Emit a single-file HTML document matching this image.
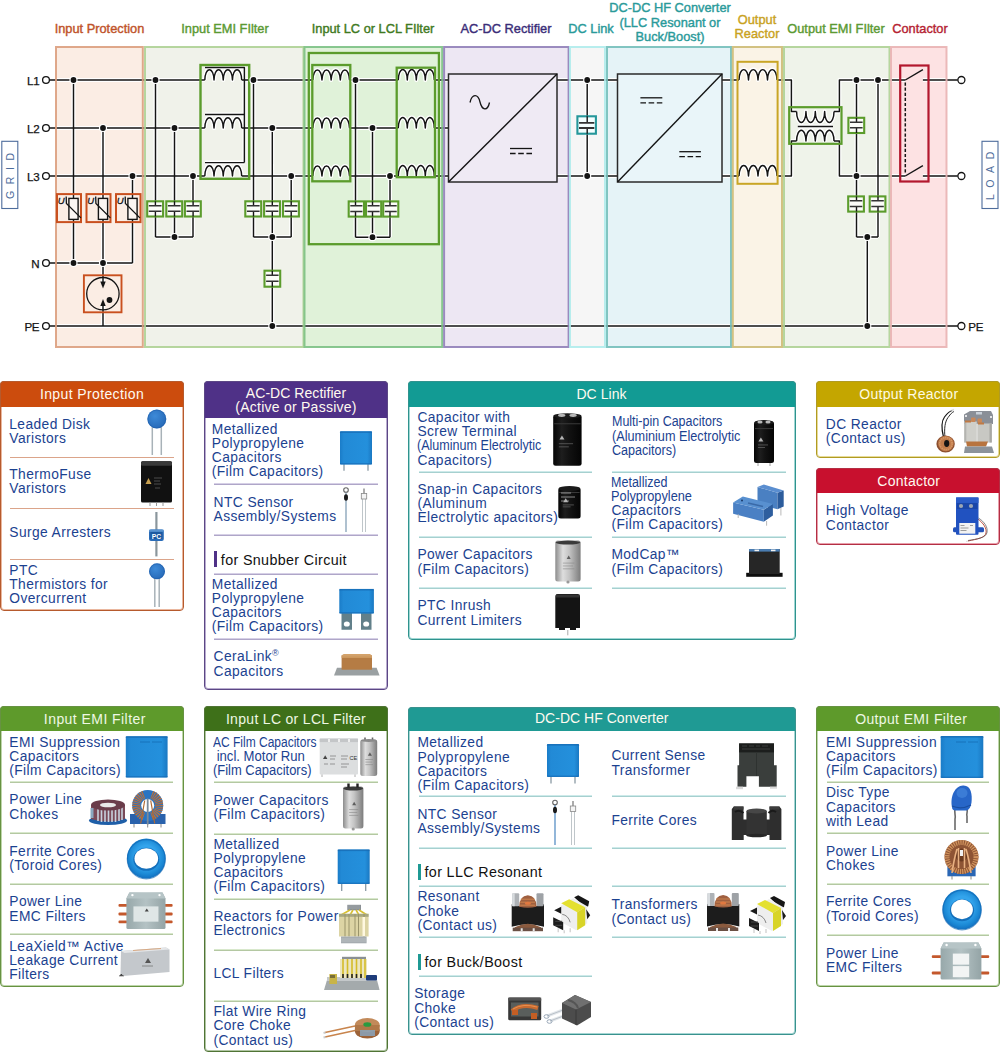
<!DOCTYPE html><html><head><meta charset="utf-8"><style>
*{margin:0;padding:0;box-sizing:border-box}
html,body{width:1000px;height:1055px;background:#fff;overflow:hidden}
body{position:relative;font-family:"Liberation Sans",sans-serif}
.dg{position:absolute;left:0;top:0}
.im{position:absolute;left:0;top:0}
.tt{font-family:"Liberation Sans",sans-serif;font-size:12.8px;stroke-width:0.4px;stroke-linejoin:round}
.lb{font-family:"Liberation Sans",sans-serif;font-size:11.6px;fill:#141414;stroke:#141414;stroke-width:0.25px;letter-spacing:-0.4px}
.uu{font-family:"Liberation Sans",sans-serif;font-style:italic;font-size:9.5px;fill:#141414;stroke:#141414;stroke-width:0.3px}
.gl{font-family:"Liberation Sans",sans-serif;font-size:10.5px;fill:#4d6c9c;letter-spacing:6.6px}
.card{position:absolute;border:1px solid;border-radius:4px;background:#fff}
.chd{position:absolute;border:1px solid;border-bottom:0;border-radius:4px 4px 0 0}
.cht{position:absolute;width:200px;text-align:center;font-size:14px;line-height:16px;letter-spacing:0.42px;white-space:nowrap}
.tx{position:absolute;white-space:nowrap;line-height:1;-webkit-text-stroke:0px}
.tx sup{font-size:9px;vertical-align:5px;line-height:0}
.cn{letter-spacing:-0.35px}
.sp{position:absolute}
</style></head><body><svg class="dg" width="1000" height="360" viewBox="0 0 1000 360"><rect x="56" y="47" width="86.80000000000001" height="300" fill="#fbede4"/><rect x="145" y="47" width="158.5" height="300" fill="#f0f2ea"/><rect x="304.5" y="47" width="137.7" height="300" fill="#e0f2d9"/><rect x="444.1" y="47" width="124.5" height="300" fill="#ede7f3"/><rect x="570" y="47" width="35" height="300" fill="#f6f6f6"/><rect x="607" y="47" width="124" height="300" fill="#e5f3f7"/><rect x="732.8" y="47" width="49.200000000000045" height="300" fill="#faf3e6"/><rect x="784" y="47" width="105.5" height="300" fill="#eff3ea"/><rect x="891" y="47" width="55.5" height="300" fill="#fde2e3"/><text x="99.5" y="33.0" fill="#c0532a" stroke="#c0532a" text-anchor="middle" class="tt">Input Protection</text><text x="225" y="33.0" fill="#5b9a33" stroke="#5b9a33" text-anchor="middle" class="tt">Input EMI FIlter</text><text x="373" y="33.0" fill="#3f7a22" stroke="#3f7a22" text-anchor="middle" class="tt">Input LC or LCL FIlter</text><text x="506" y="33.0" fill="#3a2d78" stroke="#3a2d78" text-anchor="middle" class="tt">AC-DC Rectifier</text><text x="591" y="33.0" fill="#2a9a9a" stroke="#2a9a9a" text-anchor="middle" class="tt">DC Link</text><text x="670" y="12.0" fill="#2a9a9a" stroke="#2a9a9a" text-anchor="middle" class="tt">DC-DC HF Converter</text><text x="670" y="26.6" fill="#2a9a9a" stroke="#2a9a9a" text-anchor="middle" class="tt">(LLC Resonant or</text><text x="670" y="41.2" fill="#2a9a9a" stroke="#2a9a9a" text-anchor="middle" class="tt">Buck/Boost)</text><text x="757" y="23.5" fill="#c9a21e" stroke="#c9a21e" text-anchor="middle" class="tt">Output</text><text x="757" y="38.1" fill="#c9a21e" stroke="#c9a21e" text-anchor="middle" class="tt">Reactor</text><text x="836" y="33.0" fill="#5b9a33" stroke="#5b9a33" text-anchor="middle" class="tt">Output EMI FIlter</text><text x="920" y="33.0" fill="#b51f33" stroke="#b51f33" text-anchor="middle" class="tt">Contactor</text><rect x="448.5" y="74" width="108.5" height="108" fill="#efeaf4"/><rect x="617.5" y="74" width="104.5" height="108" fill="#e9f5f9"/><path d="M49.3 80L204.8 80M241.7 80L312.8 80M349.5 80L398.3 80M434.3 80L448.5 80M49.3 128L204.8 128M241.7 128L312.8 128M349.5 128L398.3 128M434.3 128L448.5 128M49.3 176L204.8 176M241.7 176L312.8 176M349.5 176L398.3 176M434.3 176L448.5 176M49.3 263L132.5 263M49.3 326L958 326M73.5 80L73.5 263M103 128L103 263M132.5 176L132.5 263M103 263L103 284M103 326L103 304M155.5 80L155.5 237M174.5 128L174.5 237M193 176L193 237M155.5 237L193 237M253.5 80L253.5 237M272.3 128L272.3 237M291.2 176L291.2 237M253.5 237L291.2 237M272.3 237L272.3 326M355.5 80L355.5 237.2M372.5 128L372.5 237.2M390 176L390 237.2M355.5 237.2L390 237.2M557 80L617.5 80M722 80L739 80M557 176L617.5 176M722 176L739 176M587.2 80L587.2 176M777 80L791.4 80L791.4 111.5L796.6 111.5M834 111.5L839.4 111.5L839.4 80L905.3 80M777 176L791.4 176L791.4 141L796.6 141M834 141L839.4 141L839.4 176L905.3 176M856.5 80L856.5 237M878 80L878 237M856.5 237L878 237M867.3 237L867.3 326M922.9 80L957.8 80M922.9 176L957.8 176M204.8 80a4.61 10.3 0 0 1 9.22 0a4.61 10.3 0 0 1 9.22 0a4.61 10.3 0 0 1 9.22 0a4.61 10.3 0 0 1 9.22 0M312.8 80a4.59 10.5 0 0 1 9.17 0a4.59 10.5 0 0 1 9.17 0a4.59 10.5 0 0 1 9.17 0a4.59 10.5 0 0 1 9.17 0M398.3 80a4.50 10.5 0 0 1 9.00 0a4.50 10.5 0 0 1 9.00 0a4.50 10.5 0 0 1 9.00 0a4.50 10.5 0 0 1 9.00 0M204.8 128a4.61 10.3 0 0 1 9.22 0a4.61 10.3 0 0 1 9.22 0a4.61 10.3 0 0 1 9.22 0a4.61 10.3 0 0 1 9.22 0M312.8 128a4.59 10.5 0 0 1 9.17 0a4.59 10.5 0 0 1 9.17 0a4.59 10.5 0 0 1 9.17 0a4.59 10.5 0 0 1 9.17 0M398.3 128a4.50 10.5 0 0 1 9.00 0a4.50 10.5 0 0 1 9.00 0a4.50 10.5 0 0 1 9.00 0a4.50 10.5 0 0 1 9.00 0M204.8 176a4.61 10.3 0 0 1 9.22 0a4.61 10.3 0 0 1 9.22 0a4.61 10.3 0 0 1 9.22 0a4.61 10.3 0 0 1 9.22 0M312.8 176a4.59 10.5 0 0 1 9.17 0a4.59 10.5 0 0 1 9.17 0a4.59 10.5 0 0 1 9.17 0a4.59 10.5 0 0 1 9.17 0M398.3 176a4.50 10.5 0 0 1 9.00 0a4.50 10.5 0 0 1 9.00 0a4.50 10.5 0 0 1 9.00 0a4.50 10.5 0 0 1 9.00 0M739 80a4.75 10.4 0 0 1 9.50 0a4.75 10.4 0 0 1 9.50 0a4.75 10.4 0 0 1 9.50 0a4.75 10.4 0 0 1 9.50 0M739 176a4.75 10.4 0 0 1 9.50 0a4.75 10.4 0 0 1 9.50 0a4.75 10.4 0 0 1 9.50 0a4.75 10.4 0 0 1 9.50 0M796.6 111.5a4.67 11 0 0 0 9.35 0a4.67 11 0 0 0 9.35 0a4.67 11 0 0 0 9.35 0a4.67 11 0 0 0 9.35 0M796.6 141a4.67 10.8 0 0 1 9.35 0a4.67 10.8 0 0 1 9.35 0a4.67 10.8 0 0 1 9.35 0a4.67 10.8 0 0 1 9.35 0M205 67.5L244.4 67.5L244.4 162.6M205 114.4L244.4 114.4M205 162.6L244.4 162.6M797.8 126.4L833 126.4" fill="none" stroke="#fff" stroke-width="4" stroke-linejoin="round"/><path d="M49.3 80L204.8 80M241.7 80L312.8 80M349.5 80L398.3 80M434.3 80L448.5 80M49.3 128L204.8 128M241.7 128L312.8 128M349.5 128L398.3 128M434.3 128L448.5 128M49.3 176L204.8 176M241.7 176L312.8 176M349.5 176L398.3 176M434.3 176L448.5 176M49.3 263L132.5 263M49.3 326L958 326M73.5 80L73.5 263M103 128L103 263M132.5 176L132.5 263M103 263L103 284M103 326L103 304M155.5 80L155.5 237M174.5 128L174.5 237M193 176L193 237M155.5 237L193 237M253.5 80L253.5 237M272.3 128L272.3 237M291.2 176L291.2 237M253.5 237L291.2 237M272.3 237L272.3 326M355.5 80L355.5 237.2M372.5 128L372.5 237.2M390 176L390 237.2M355.5 237.2L390 237.2M557 80L617.5 80M722 80L739 80M557 176L617.5 176M722 176L739 176M587.2 80L587.2 176M777 80L791.4 80L791.4 111.5L796.6 111.5M834 111.5L839.4 111.5L839.4 80L905.3 80M777 176L791.4 176L791.4 141L796.6 141M834 141L839.4 141L839.4 176L905.3 176M856.5 80L856.5 237M878 80L878 237M856.5 237L878 237M867.3 237L867.3 326M922.9 80L957.8 80M922.9 176L957.8 176M204.8 80a4.61 10.3 0 0 1 9.22 0a4.61 10.3 0 0 1 9.22 0a4.61 10.3 0 0 1 9.22 0a4.61 10.3 0 0 1 9.22 0M312.8 80a4.59 10.5 0 0 1 9.17 0a4.59 10.5 0 0 1 9.17 0a4.59 10.5 0 0 1 9.17 0a4.59 10.5 0 0 1 9.17 0M398.3 80a4.50 10.5 0 0 1 9.00 0a4.50 10.5 0 0 1 9.00 0a4.50 10.5 0 0 1 9.00 0a4.50 10.5 0 0 1 9.00 0M204.8 128a4.61 10.3 0 0 1 9.22 0a4.61 10.3 0 0 1 9.22 0a4.61 10.3 0 0 1 9.22 0a4.61 10.3 0 0 1 9.22 0M312.8 128a4.59 10.5 0 0 1 9.17 0a4.59 10.5 0 0 1 9.17 0a4.59 10.5 0 0 1 9.17 0a4.59 10.5 0 0 1 9.17 0M398.3 128a4.50 10.5 0 0 1 9.00 0a4.50 10.5 0 0 1 9.00 0a4.50 10.5 0 0 1 9.00 0a4.50 10.5 0 0 1 9.00 0M204.8 176a4.61 10.3 0 0 1 9.22 0a4.61 10.3 0 0 1 9.22 0a4.61 10.3 0 0 1 9.22 0a4.61 10.3 0 0 1 9.22 0M312.8 176a4.59 10.5 0 0 1 9.17 0a4.59 10.5 0 0 1 9.17 0a4.59 10.5 0 0 1 9.17 0a4.59 10.5 0 0 1 9.17 0M398.3 176a4.50 10.5 0 0 1 9.00 0a4.50 10.5 0 0 1 9.00 0a4.50 10.5 0 0 1 9.00 0a4.50 10.5 0 0 1 9.00 0M739 80a4.75 10.4 0 0 1 9.50 0a4.75 10.4 0 0 1 9.50 0a4.75 10.4 0 0 1 9.50 0a4.75 10.4 0 0 1 9.50 0M739 176a4.75 10.4 0 0 1 9.50 0a4.75 10.4 0 0 1 9.50 0a4.75 10.4 0 0 1 9.50 0a4.75 10.4 0 0 1 9.50 0M796.6 111.5a4.67 11 0 0 0 9.35 0a4.67 11 0 0 0 9.35 0a4.67 11 0 0 0 9.35 0a4.67 11 0 0 0 9.35 0M796.6 141a4.67 10.8 0 0 1 9.35 0a4.67 10.8 0 0 1 9.35 0a4.67 10.8 0 0 1 9.35 0a4.67 10.8 0 0 1 9.35 0M205 67.5L244.4 67.5L244.4 162.6M205 114.4L244.4 114.4M205 162.6L244.4 162.6M797.8 126.4L833 126.4" fill="none" stroke="#141414" stroke-width="1.45" stroke-linejoin="round"/><rect x="56" y="47" width="86.80000000000001" height="300" fill="none" stroke="#dc9e7e" stroke-width="2" opacity="0.9"/><rect x="145" y="47" width="158.5" height="300" fill="none" stroke="#aed195" stroke-width="2" opacity="0.9"/><rect x="304.5" y="47" width="137.7" height="300" fill="none" stroke="#7cc184" stroke-width="2" opacity="0.9"/><rect x="444.1" y="47" width="124.5" height="300" fill="none" stroke="#9080b8" stroke-width="2" opacity="0.9"/><rect x="570" y="47" width="35" height="300" fill="none" stroke="#b0ecec" stroke-width="2" opacity="0.9"/><rect x="607" y="47" width="124" height="300" fill="none" stroke="#74bfba" stroke-width="2" opacity="0.9"/><rect x="732.8" y="47" width="49.200000000000045" height="300" fill="none" stroke="#cdbb76" stroke-width="2" opacity="0.9"/><rect x="784" y="47" width="105.5" height="300" fill="none" stroke="#aed195" stroke-width="2" opacity="0.9"/><rect x="891" y="47" width="55.5" height="300" fill="none" stroke="#e9b2b2" stroke-width="2" opacity="0.9"/><rect x="147.20000000000002" y="201.3" width="15.899999999999977" height="15.2" fill="#fbfcf8" stroke="#5b9c2c" stroke-width="2.1"/><path d="M155.4 201.3V205.632M155.4 211.30800000000002V216.5" stroke="#141414" stroke-width="1.4" fill="none"/><path d="M148.8 205.632H161.5M148.8 211.30800000000002H161.5" stroke="#333" stroke-width="1.5" fill="none"/><rect x="166.3" y="201.3" width="15.899999999999977" height="15.2" fill="#fbfcf8" stroke="#5b9c2c" stroke-width="2.1"/><path d="M174.5 201.3V205.632M174.5 211.30800000000002V216.5" stroke="#141414" stroke-width="1.4" fill="none"/><path d="M167.9 205.632H180.6M167.9 211.30800000000002H180.6" stroke="#333" stroke-width="1.5" fill="none"/><rect x="184.9" y="201.3" width="15.899999999999977" height="15.2" fill="#fbfcf8" stroke="#5b9c2c" stroke-width="2.1"/><path d="M193.1 201.3V205.632M193.1 211.30800000000002V216.5" stroke="#141414" stroke-width="1.4" fill="none"/><path d="M186.5 205.632H199.2M186.5 211.30800000000002H199.2" stroke="#333" stroke-width="1.5" fill="none"/><rect x="245.3" y="201.3" width="15.899999999999977" height="15.2" fill="#fbfcf8" stroke="#5b9c2c" stroke-width="2.1"/><path d="M253.5 201.3V205.632M253.5 211.30800000000002V216.5" stroke="#141414" stroke-width="1.4" fill="none"/><path d="M246.9 205.632H259.59999999999997M246.9 211.30800000000002H259.59999999999997" stroke="#333" stroke-width="1.5" fill="none"/><rect x="264.1" y="201.3" width="15.899999999999977" height="15.2" fill="#fbfcf8" stroke="#5b9c2c" stroke-width="2.1"/><path d="M272.3 201.3V205.632M272.3 211.30800000000002V216.5" stroke="#141414" stroke-width="1.4" fill="none"/><path d="M265.70000000000005 205.632H278.4M265.70000000000005 211.30800000000002H278.4" stroke="#333" stroke-width="1.5" fill="none"/><rect x="283.0" y="201.3" width="15.899999999999977" height="15.2" fill="#fbfcf8" stroke="#5b9c2c" stroke-width="2.1"/><path d="M291.2 201.3V205.632M291.2 211.30800000000002V216.5" stroke="#141414" stroke-width="1.4" fill="none"/><path d="M284.6 205.632H297.29999999999995M284.6 211.30800000000002H297.29999999999995" stroke="#333" stroke-width="1.5" fill="none"/><rect x="264.5" y="270.7" width="15.699999999999989" height="16" fill="#fbfcf8" stroke="#5b9c2c" stroke-width="2.1"/><path d="M272.3 270.7V275.28M272.3 281.21999999999997V286.7" stroke="#141414" stroke-width="1.4" fill="none"/><path d="M266.1 275.28H278.59999999999997M266.1 281.21999999999997H278.59999999999997" stroke="#333" stroke-width="1.5" fill="none"/><rect x="348.7" y="201.4" width="15.300000000000011" height="15.2" fill="#fbfcf8" stroke="#5b9c2c" stroke-width="2.1"/><path d="M355.5 201.4V205.732M355.5 211.40800000000002V216.6" stroke="#141414" stroke-width="1.4" fill="none"/><path d="M350.3 205.732H362.4M350.3 211.40800000000002H362.4" stroke="#333" stroke-width="1.5" fill="none"/><rect x="366" y="201.4" width="15.199999999999989" height="15.2" fill="#fbfcf8" stroke="#5b9c2c" stroke-width="2.1"/><path d="M372.5 201.4V205.732M372.5 211.40800000000002V216.6" stroke="#141414" stroke-width="1.4" fill="none"/><path d="M367.6 205.732H379.59999999999997M367.6 211.40800000000002H379.59999999999997" stroke="#333" stroke-width="1.5" fill="none"/><rect x="383.2" y="201.4" width="15.100000000000023" height="15.2" fill="#fbfcf8" stroke="#5b9c2c" stroke-width="2.1"/><path d="M390 201.4V205.732M390 211.40800000000002V216.6" stroke="#141414" stroke-width="1.4" fill="none"/><path d="M384.8 205.732H396.7M384.8 211.40800000000002H396.7" stroke="#333" stroke-width="1.5" fill="none"/><rect x="577.4" y="116.3" width="18.5" height="17.4" fill="#f4fefe" stroke="#25979a" stroke-width="2.1"/><path d="M587.2 116.3V122.866M587.2 128.007V133.7" stroke="#141414" stroke-width="1.4" fill="none"/><path d="M579.0 122.866H594.3M579.0 128.007H594.3" stroke="#333" stroke-width="1.8" fill="none"/><rect x="848.4" y="117.8" width="15.800000000000068" height="15.2" fill="#fbfcf8" stroke="#5b9c2c" stroke-width="2.1"/><path d="M856.5 117.8V122.13199999999999M856.5 127.80799999999999V133.0" stroke="#141414" stroke-width="1.4" fill="none"/><path d="M850.0 122.13199999999999H862.6M850.0 127.80799999999999H862.6" stroke="#333" stroke-width="1.5" fill="none"/><rect x="848.2" y="196.4" width="15.699999999999932" height="15.2" fill="#fbfcf8" stroke="#5b9c2c" stroke-width="2.1"/><path d="M856.5 196.4V200.732M856.5 206.40800000000002V211.6" stroke="#141414" stroke-width="1.4" fill="none"/><path d="M849.8000000000001 200.732H862.3M849.8000000000001 206.40800000000002H862.3" stroke="#333" stroke-width="1.5" fill="none"/><rect x="869.7" y="196.4" width="15.699999999999932" height="15.2" fill="#fbfcf8" stroke="#5b9c2c" stroke-width="2.1"/><path d="M878 196.4V200.732M878 206.40800000000002V211.6" stroke="#141414" stroke-width="1.4" fill="none"/><path d="M871.3000000000001 200.732H883.8M871.3000000000001 206.40800000000002H883.8" stroke="#333" stroke-width="1.5" fill="none"/><rect x="57" y="194.1" width="24" height="28" fill="none" stroke="#c9501f" stroke-width="2"/><rect x="68.9" y="198.4" width="9.2" height="21" fill="#fbf6f3" stroke="#141414" stroke-width="1.4"/><path d="M66.2 196.4L66.4 203.4L80.9 217.9" stroke="#141414" stroke-width="1.3" fill="none"/><text x="57.7" y="203.6" class="uu">U</text><rect x="86.5" y="194.1" width="24.0" height="28" fill="none" stroke="#c9501f" stroke-width="2"/><rect x="98.4" y="198.4" width="9.2" height="21" fill="#fbf6f3" stroke="#141414" stroke-width="1.4"/><path d="M95.7 196.4L95.9 203.4L110.4 217.9" stroke="#141414" stroke-width="1.3" fill="none"/><text x="87.2" y="203.6" class="uu">U</text><rect x="116" y="194.1" width="24.5" height="28" fill="none" stroke="#c9501f" stroke-width="2"/><rect x="127.9" y="198.4" width="9.2" height="21" fill="#fbf6f3" stroke="#141414" stroke-width="1.4"/><path d="M125.2 196.4L125.4 203.4L139.9 217.9" stroke="#141414" stroke-width="1.3" fill="none"/><text x="116.7" y="203.6" class="uu">U</text><rect x="83.9" y="275.3" width="37.6" height="37" fill="none" stroke="#c9501f" stroke-width="1.9"/><circle cx="102.9" cy="293.7" r="16.2" fill="none" stroke="#141414" stroke-width="1.3"/><path d="M100.3 281.5L105.7 281.5L103 288.5Z" fill="#141414"/><path d="M100.3 306L105.7 306L103 299Z" fill="#141414"/><circle cx="109.5" cy="300" r="2.9" fill="#141414"/><rect x="200.5" y="65" width="48.7" height="113.8" fill="none" stroke="#5b9c2c" stroke-width="2.4"/><rect x="308.8" y="53" width="130.1" height="191.2" fill="none" stroke="#5b9c2c" stroke-width="2.3"/><rect x="312.3" y="65" width="38" height="116.3" fill="none" stroke="#5b9c2c" stroke-width="2.3"/><rect x="396.7" y="67.7" width="38.3" height="109.5" fill="none" stroke="#5b9c2c" stroke-width="2.3"/><rect x="448.5" y="74" width="108.5" height="108" fill="none" stroke="#2a2a2a" stroke-width="1.5"/><path d="M448.5 182L557 74" stroke="#141414" stroke-width="1.4"/><path d="M470 102.5C472 93.5 478 93.5 480 102S487.5 111.5 489.5 102.5" stroke="#141414" stroke-width="1.3" fill="none"/><path d="M510 148.5H532" stroke="#141414" stroke-width="1.3"/><path d="M510 153.5H532" stroke="#141414" stroke-width="1.3" stroke-dasharray="5.6 2.6"/><rect x="617.5" y="74" width="104.5" height="108" fill="none" stroke="#2a2a2a" stroke-width="1.5"/><path d="M617.5 182L722 74" stroke="#141414" stroke-width="1.4"/><path d="M640.4 97.8H662.3" stroke="#141414" stroke-width="1.3"/><path d="M640.4 102.8H662.3" stroke="#141414" stroke-width="1.3" stroke-dasharray="5.6 2.6"/><path d="M679.3 151.7H700.9" stroke="#141414" stroke-width="1.3"/><path d="M679.3 156.7H700.9" stroke="#141414" stroke-width="1.3" stroke-dasharray="5.6 2.6"/><rect x="737.5" y="61.8" width="40.1" height="122" fill="none" stroke="#c9a526" stroke-width="2"/><rect x="789.2" y="107.2" width="52.3" height="36.6" fill="none" stroke="#5b9c2c" stroke-width="2.2"/><rect x="900.2" y="65.5" width="28.3" height="116" fill="none" stroke="#b3172d" stroke-width="2.2"/><path d="M905.3 80L922.9 69.6" stroke="#141414" stroke-width="1.4"/><path d="M905.3 176L922.9 165.6" stroke="#141414" stroke-width="1.4"/><path d="M905.3 82.5V174" stroke="#141414" stroke-width="1.5" stroke-dasharray="3.2 1.9"/><circle cx="46" cy="80" r="3.4" fill="#fff" stroke="#141414" stroke-width="1.3"/><circle cx="46" cy="128" r="3.4" fill="#fff" stroke="#141414" stroke-width="1.3"/><circle cx="46" cy="176" r="3.4" fill="#fff" stroke="#141414" stroke-width="1.3"/><circle cx="46" cy="263" r="3.4" fill="#fff" stroke="#141414" stroke-width="1.3"/><circle cx="46" cy="326" r="3.4" fill="#fff" stroke="#141414" stroke-width="1.3"/><circle cx="961.4" cy="80" r="3.5" fill="#fff" stroke="#141414" stroke-width="1.3"/><circle cx="961.4" cy="176" r="3.5" fill="#fff" stroke="#141414" stroke-width="1.3"/><circle cx="961.4" cy="326" r="3.5" fill="#fff" stroke="#141414" stroke-width="1.3"/><text x="39.2" y="84.6" text-anchor="end" class="lb">L1</text><text x="39.2" y="132.6" text-anchor="end" class="lb">L2</text><text x="39.2" y="180.6" text-anchor="end" class="lb">L3</text><text x="39.2" y="267.6" text-anchor="end" class="lb">N</text><text x="39.2" y="330.6" text-anchor="end" class="lb">PE</text><text x="968.3" y="330.6" class="lb">PE</text><rect x="1.8" y="141.3" width="16" height="67.2" fill="#fff" stroke="#4d6c9c" stroke-width="1.1"/><text transform="translate(14,172.6) rotate(-90)" text-anchor="middle" class="gl">GRID</text><rect x="982" y="141.3" width="16" height="67.2" fill="#fff" stroke="#4d6c9c" stroke-width="1.1"/><text transform="translate(994,172.6) rotate(-90)" text-anchor="middle" class="gl">LOAD</text><circle cx="73.5" cy="80" r="4.1" fill="#fff"/><circle cx="73.5" cy="80" r="2.9" fill="#141414"/><circle cx="103" cy="128" r="4.1" fill="#fff"/><circle cx="103" cy="128" r="2.9" fill="#141414"/><circle cx="132.5" cy="176" r="4.1" fill="#fff"/><circle cx="132.5" cy="176" r="2.9" fill="#141414"/><circle cx="73.5" cy="263" r="4.1" fill="#fff"/><circle cx="73.5" cy="263" r="2.9" fill="#141414"/><circle cx="103" cy="263" r="4.1" fill="#fff"/><circle cx="103" cy="263" r="2.9" fill="#141414"/><circle cx="155.5" cy="80" r="4.1" fill="#fff"/><circle cx="155.5" cy="80" r="2.9" fill="#141414"/><circle cx="174.5" cy="128" r="4.1" fill="#fff"/><circle cx="174.5" cy="128" r="2.9" fill="#141414"/><circle cx="193" cy="176" r="4.1" fill="#fff"/><circle cx="193" cy="176" r="2.9" fill="#141414"/><circle cx="174.5" cy="237" r="4.1" fill="#fff"/><circle cx="174.5" cy="237" r="2.9" fill="#141414"/><circle cx="253.5" cy="80" r="4.1" fill="#fff"/><circle cx="253.5" cy="80" r="2.9" fill="#141414"/><circle cx="272.3" cy="128" r="4.1" fill="#fff"/><circle cx="272.3" cy="128" r="2.9" fill="#141414"/><circle cx="291.2" cy="176" r="4.1" fill="#fff"/><circle cx="291.2" cy="176" r="2.9" fill="#141414"/><circle cx="272.3" cy="237" r="4.1" fill="#fff"/><circle cx="272.3" cy="237" r="2.9" fill="#141414"/><circle cx="272.3" cy="326" r="4.1" fill="#fff"/><circle cx="272.3" cy="326" r="2.9" fill="#141414"/><circle cx="355.5" cy="80" r="4.1" fill="#fff"/><circle cx="355.5" cy="80" r="2.9" fill="#141414"/><circle cx="372.5" cy="128" r="4.1" fill="#fff"/><circle cx="372.5" cy="128" r="2.9" fill="#141414"/><circle cx="390" cy="176" r="4.1" fill="#fff"/><circle cx="390" cy="176" r="2.9" fill="#141414"/><circle cx="372.5" cy="237.2" r="4.1" fill="#fff"/><circle cx="372.5" cy="237.2" r="2.9" fill="#141414"/><circle cx="587.2" cy="80" r="4.1" fill="#fff"/><circle cx="587.2" cy="80" r="2.9" fill="#141414"/><circle cx="587.2" cy="176" r="4.1" fill="#fff"/><circle cx="587.2" cy="176" r="2.9" fill="#141414"/><circle cx="856.5" cy="80" r="4.1" fill="#fff"/><circle cx="856.5" cy="80" r="2.9" fill="#141414"/><circle cx="856.5" cy="176" r="4.1" fill="#fff"/><circle cx="856.5" cy="176" r="2.9" fill="#141414"/><circle cx="878" cy="80" r="4.1" fill="#fff"/><circle cx="878" cy="80" r="2.9" fill="#141414"/><circle cx="867.3" cy="237" r="4.1" fill="#fff"/><circle cx="867.3" cy="237" r="2.9" fill="#141414"/><circle cx="867.3" cy="326" r="4.1" fill="#fff"/><circle cx="867.3" cy="326" r="2.9" fill="#141414"/></svg><div class="card" style="left:0px;top:381px;width:184px;height:230px;border-color:#b65a2d;box-shadow:inset 0 0 0 1px #eab79e"></div><div class="chd" style="left:0px;top:381px;width:184px;height:26px;background:#cc4c0d;border-color:#b65a2d"></div><div class="cht" style="left:-8px;top:386.4px;color:#fffaf0;letter-spacing:0.38px">Input Protection</div><div class="tx" style="left:9.3px;top:417.82px;font-size:13.8px;letter-spacing:0.4px;color:#1b4290;">Leaded Disk</div><div class="tx" style="left:9.3px;top:432.02px;font-size:13.8px;letter-spacing:0.4px;color:#1b4290;">Varistors</div><div class="sp" style="left:10px;top:457px;width:163.5px;height:1px;background:#dba48a"></div><div class="tx" style="left:9.3px;top:468.22px;font-size:13.8px;letter-spacing:0.4px;color:#1b4290;">ThermoFuse</div><div class="tx" style="left:9.3px;top:482.42px;font-size:13.8px;letter-spacing:0.4px;color:#1b4290;">Varistors</div><div class="sp" style="left:10px;top:508px;width:163.5px;height:1px;background:#dba48a"></div><div class="tx" style="left:9.3px;top:525.82px;font-size:13.8px;letter-spacing:0.4px;color:#1b4290;">Surge Arresters</div><div class="sp" style="left:10px;top:559px;width:163.5px;height:1px;background:#dba48a"></div><div class="tx" style="left:9.3px;top:563.72px;font-size:13.8px;letter-spacing:0.4px;color:#1b4290;">PTC</div><div class="tx" style="left:9.3px;top:577.92px;font-size:13.8px;letter-spacing:0.4px;color:#1b4290;">Thermistors for</div><div class="tx" style="left:9.3px;top:592.12px;font-size:13.8px;letter-spacing:0.4px;color:#1b4290;">Overcurrent</div><div class="card" style="left:204px;top:381px;width:184px;height:309px;border-color:#5c4785;box-shadow:inset 0 0 0 1px #b8accf"></div><div class="chd" style="left:204px;top:381px;width:184px;height:37px;background:#4f3187;border-color:#5c4785"></div><div class="cht" style="left:196px;top:385.4px;color:#fffaf0;letter-spacing:0.05px">AC-DC Rectifier</div><div class="cht" style="left:196px;top:398.8px;color:#fffaf0;letter-spacing:0.25px">(Active or Passive)</div><div class="tx" style="left:211.8px;top:422.52px;font-size:13.8px;letter-spacing:0.4px;color:#1b4290;">Metallized</div><div class="tx" style="left:211.8px;top:436.72px;font-size:13.8px;letter-spacing:0.4px;color:#1b4290;">Polypropylene</div><div class="tx" style="left:211.8px;top:450.92px;font-size:13.8px;letter-spacing:0.4px;color:#1b4290;">Capacitors</div><div class="tx" style="left:211.8px;top:465.12px;font-size:13.8px;letter-spacing:0.4px;color:#1b4290;">(Film Capacitors)</div><div class="sp" style="left:214px;top:483px;width:163.7px;height:2px;background:linear-gradient(#d6d0e6 50%,#afa6c8 50%)"></div><div class="tx" style="left:213.6px;top:495.72px;font-size:13.8px;letter-spacing:0.4px;color:#1b4290;">NTC Sensor</div><div class="tx" style="left:213.6px;top:509.92px;font-size:13.8px;letter-spacing:0.4px;color:#1b4290;">Assembly/Systems</div><div class="sp" style="left:214px;top:534px;width:163.7px;height:2px;background:linear-gradient(#d6d0e6 50%,#afa6c8 50%)"></div><div class="sp" style="left:214.3px;top:551.3px;width:3.2px;height:16.100000000000023px;background:#4f3187"></div><div class="tx" style="left:220.8px;top:553.10px;font-size:14.3px;letter-spacing:0.36px;color:#111;">for Snubber Circuit</div><div class="sp" style="left:214px;top:573px;width:163.7px;height:2px;background:linear-gradient(#d6d0e6 50%,#afa6c8 50%)"></div><div class="tx" style="left:211.8px;top:577.82px;font-size:13.8px;letter-spacing:0.4px;color:#1b4290;">Metallized</div><div class="tx" style="left:211.8px;top:592.02px;font-size:13.8px;letter-spacing:0.4px;color:#1b4290;">Polypropylene</div><div class="tx" style="left:211.8px;top:606.22px;font-size:13.8px;letter-spacing:0.4px;color:#1b4290;">Capacitors</div><div class="tx" style="left:211.8px;top:620.42px;font-size:13.8px;letter-spacing:0.4px;color:#1b4290;">(Film Capacitors)</div><div class="sp" style="left:214px;top:638px;width:163.7px;height:2px;background:linear-gradient(#d6d0e6 50%,#afa6c8 50%)"></div><div class="tx" style="left:213.6px;top:650.42px;font-size:13.8px;letter-spacing:0.4px;color:#1b4290;">CeraLink<sup>®</sup></div><div class="tx" style="left:213.6px;top:664.62px;font-size:13.8px;letter-spacing:0.4px;color:#1b4290;">Capacitors</div><div class="card" style="left:408px;top:381px;width:388px;height:259px;border-color:#30938e;box-shadow:inset 0 0 0 1px #a0d7d4"></div><div class="chd" style="left:408px;top:381px;width:388px;height:26px;background:#129b94;border-color:#30938e"></div><div class="cht" style="left:501.5px;top:386.4px;color:#fffaf0;letter-spacing:0.05px">DC Link</div><div class="tx" style="left:417.4px;top:410.92px;font-size:13.8px;letter-spacing:0.4px;color:#1b4290;">Capacitor with</div><div class="tx" style="left:417.4px;top:425.12px;font-size:13.8px;letter-spacing:0.4px;color:#1b4290;">Screw Terminal</div><div class="tx" style="left:417.4px;top:439.32px;font-size:13.8px;letter-spacing:0.4px;color:#1b4290;"><span style="letter-spacing:0px;display:inline-block;transform:scaleX(0.911);transform-origin:0 0">(Aluminum Electrolytic</span></div><div class="tx" style="left:417.4px;top:453.52px;font-size:13.8px;letter-spacing:0.4px;color:#1b4290;">Capacitors)</div><div class="sp" style="left:418.6px;top:471px;width:173.39999999999998px;height:2px;background:linear-gradient(#cdeaea 50%,#a6d0cf 50%)"></div><div class="tx" style="left:417.4px;top:482.92px;font-size:13.8px;letter-spacing:0.42px;color:#1b4290;">Snap-in Capacitors</div><div class="tx" style="left:417.4px;top:497.12px;font-size:13.8px;letter-spacing:0.42px;color:#1b4290;">(Aluminum</div><div class="tx" style="left:417.4px;top:511.32px;font-size:13.8px;letter-spacing:0.42px;color:#1b4290;">Electrolytic apacitors)</div><div class="sp" style="left:418.6px;top:536px;width:173.39999999999998px;height:2px;background:linear-gradient(#cdeaea 50%,#a6d0cf 50%)"></div><div class="tx" style="left:417.4px;top:548.32px;font-size:13.8px;letter-spacing:0.4px;color:#1b4290;">Power Capacitors</div><div class="tx" style="left:417.4px;top:562.52px;font-size:13.8px;letter-spacing:0.4px;color:#1b4290;">(Film Capacitors)</div><div class="sp" style="left:418.6px;top:587px;width:173.39999999999998px;height:2px;background:linear-gradient(#cdeaea 50%,#a6d0cf 50%)"></div><div class="tx" style="left:417.4px;top:599.32px;font-size:13.8px;letter-spacing:0.4px;color:#1b4290;">PTC Inrush</div><div class="tx" style="left:417.4px;top:613.52px;font-size:13.8px;letter-spacing:0.4px;color:#1b4290;">Current Limiters</div><div class="tx" style="left:612.4px;top:415.32px;font-size:13.8px;letter-spacing:0.4px;color:#1b4290;"><span style="letter-spacing:0px;display:inline-block;transform:scaleX(0.905);transform-origin:0 0">Multi-pin Capacitors</span></div><div class="tx" style="left:612.4px;top:429.52px;font-size:13.8px;letter-spacing:0.4px;color:#1b4290;"><span style="letter-spacing:0px;display:inline-block;transform:scaleX(0.92);transform-origin:0 0">(Aluminium Electrolytic</span></div><div class="tx" style="left:612.4px;top:443.72px;font-size:13.8px;letter-spacing:0.4px;color:#1b4290;"><span style="letter-spacing:0px;display:inline-block;transform:scaleX(0.91);transform-origin:0 0">Capacitors)</span></div><div class="sp" style="left:612px;top:471px;width:174px;height:2px;background:linear-gradient(#cdeaea 50%,#a6d0cf 50%)"></div><div class="tx" style="left:611.4px;top:475.72px;font-size:13.8px;letter-spacing:0.4px;color:#1b4290;"><span style="letter-spacing:0px;display:inline-block;transform:scaleX(0.908);transform-origin:0 0">Metallized</span></div><div class="tx" style="left:611.4px;top:489.92px;font-size:13.8px;letter-spacing:0.4px;color:#1b4290;"><span style="letter-spacing:0px;display:inline-block;transform:scaleX(0.926);transform-origin:0 0">Polypropylene</span></div><div class="tx" style="left:611.4px;top:504.12px;font-size:13.8px;letter-spacing:0.4px;color:#1b4290;">Capacitors</div><div class="tx" style="left:611.4px;top:518.32px;font-size:13.8px;letter-spacing:0.4px;color:#1b4290;">(Film Capacitors)</div><div class="sp" style="left:612px;top:536px;width:174px;height:2px;background:linear-gradient(#cdeaea 50%,#a6d0cf 50%)"></div><div class="tx" style="left:611.4px;top:548.32px;font-size:13.8px;letter-spacing:0.4px;color:#1b4290;">ModCap™</div><div class="tx" style="left:611.4px;top:562.52px;font-size:13.8px;letter-spacing:0.4px;color:#1b4290;">(Film Capacitors)</div><div class="sp" style="left:612px;top:587px;width:174px;height:2px;background:linear-gradient(#cdeaea 50%,#a6d0cf 50%)"></div><div class="card" style="left:816px;top:381px;width:184px;height:77px;border-color:#b09b23;box-shadow:inset 0 0 0 1px #e7db99"></div><div class="chd" style="left:816px;top:381px;width:184px;height:26px;background:#c4a600;border-color:#b09b23"></div><div class="cht" style="left:808.8px;top:386.0px;color:#fffbe2;letter-spacing:0.3px">Output Reactor</div><div class="tx" style="left:825.8px;top:417.92px;font-size:13.8px;letter-spacing:0.4px;color:#1b4290;">DC Reactor</div><div class="tx" style="left:825.8px;top:432.12px;font-size:13.8px;letter-spacing:0.4px;color:#1b4290;">(Contact us)</div><div class="card" style="left:816px;top:468px;width:184px;height:77px;border-color:#b32f44;box-shadow:inset 0 0 0 1px #e99fab"></div><div class="chd" style="left:816px;top:468px;width:184px;height:25px;background:#c8102e;border-color:#b32f44"></div><div class="cht" style="left:808.8px;top:472.8px;color:#fffaf0;letter-spacing:0.24px">Contactor</div><div class="tx" style="left:825.8px;top:504.32px;font-size:13.8px;letter-spacing:0.4px;color:#1b4290;">High Voltage</div><div class="tx" style="left:825.8px;top:518.52px;font-size:13.8px;letter-spacing:0.4px;color:#1b4290;">Contactor</div><div class="card" style="left:0px;top:706px;width:184px;height:281px;border-color:#679242;box-shadow:inset 0 0 0 1px #bed6aa"></div><div class="chd" style="left:0px;top:706px;width:184px;height:25px;background:#5e9a2b;border-color:#679242"></div><div class="cht" style="left:-5.200000000000003px;top:711.2px;color:#eef8e4;letter-spacing:0.44px">Input EMI Filter</div><div class="tx" style="left:9.3px;top:735.52px;font-size:13.8px;letter-spacing:0.4px;color:#1b4290;">EMI Suppression</div><div class="tx" style="left:9.3px;top:749.72px;font-size:13.8px;letter-spacing:0.4px;color:#1b4290;">Capacitors</div><div class="tx" style="left:9.3px;top:763.92px;font-size:13.8px;letter-spacing:0.4px;color:#1b4290;">(Film Capacitors)</div><div class="sp" style="left:10px;top:781px;width:163px;height:2px;background:linear-gradient(#d8e8cc 50%,#b4c8a2 50%)"></div><div class="tx" style="left:9.3px;top:793.32px;font-size:13.8px;letter-spacing:0.4px;color:#1b4290;">Power Line</div><div class="tx" style="left:9.3px;top:807.52px;font-size:13.8px;letter-spacing:0.4px;color:#1b4290;">Chokes</div><div class="sp" style="left:10px;top:832px;width:163px;height:2px;background:linear-gradient(#d8e8cc 50%,#b4c8a2 50%)"></div><div class="tx" style="left:9.3px;top:845.02px;font-size:13.8px;letter-spacing:0.4px;color:#1b4290;">Ferrite Cores</div><div class="tx" style="left:9.3px;top:859.22px;font-size:13.8px;letter-spacing:0.4px;color:#1b4290;">(Toroid Cores)</div><div class="sp" style="left:10px;top:883px;width:163px;height:2px;background:linear-gradient(#d8e8cc 50%,#b4c8a2 50%)"></div><div class="tx" style="left:9.3px;top:895.32px;font-size:13.8px;letter-spacing:0.4px;color:#1b4290;">Power Line</div><div class="tx" style="left:9.3px;top:909.52px;font-size:13.8px;letter-spacing:0.4px;color:#1b4290;">EMC Filters</div><div class="sp" style="left:10px;top:933px;width:163px;height:2px;background:linear-gradient(#d8e8cc 50%,#b4c8a2 50%)"></div><div class="tx" style="left:9.3px;top:940.02px;font-size:13.8px;letter-spacing:0.4px;color:#1b4290;">LeaXield™ Active</div><div class="tx" style="left:9.3px;top:954.22px;font-size:13.8px;letter-spacing:0.4px;color:#1b4290;">Leakage Current</div><div class="tx" style="left:9.3px;top:968.42px;font-size:13.8px;letter-spacing:0.4px;color:#1b4290;">Filters</div><div class="card" style="left:204px;top:706px;width:184px;height:346px;border-color:#507435;box-shadow:inset 0 0 0 1px #b1c5a3"></div><div class="chd" style="left:204px;top:706px;width:184px;height:25px;background:#3e7019;border-color:#507435"></div><div class="cht" style="left:196px;top:710.8px;color:#eef8e4;letter-spacing:0.31px">Input LC or LCL Filter</div><div class="tx" style="left:213.4px;top:735.72px;font-size:13.8px;letter-spacing:0.4px;color:#1b4290;"><span style="letter-spacing:0px;display:inline-block;transform:scaleX(0.87);transform-origin:0 0">AC Film Capacitors</span></div><div class="tx" style="left:213.4px;top:749.92px;font-size:13.8px;letter-spacing:0.4px;color:#1b4290;"><span style="letter-spacing:0px;display:inline-block;transform:scaleX(0.95);transform-origin:0 0">&nbsp;incl. Motor Run</span></div><div class="tx" style="left:213.4px;top:764.12px;font-size:13.8px;letter-spacing:0.4px;color:#1b4290;"><span style="letter-spacing:0px;display:inline-block;transform:scaleX(0.9375);transform-origin:0 0">(Film Capacitors)</span></div><div class="sp" style="left:214px;top:781px;width:163.7px;height:2px;background:linear-gradient(#d8e8cc 50%,#b4c8a2 50%)"></div><div class="tx" style="left:213.4px;top:793.62px;font-size:13.8px;letter-spacing:0.4px;color:#1b4290;">Power Capacitors</div><div class="tx" style="left:213.4px;top:807.82px;font-size:13.8px;letter-spacing:0.4px;color:#1b4290;">(Film Capacitors)</div><div class="sp" style="left:214px;top:833px;width:163.7px;height:2px;background:linear-gradient(#d8e8cc 50%,#b4c8a2 50%)"></div><div class="tx" style="left:213.4px;top:837.52px;font-size:13.8px;letter-spacing:0.4px;color:#1b4290;">Metallized</div><div class="tx" style="left:213.4px;top:851.72px;font-size:13.8px;letter-spacing:0.4px;color:#1b4290;">Polypropylene</div><div class="tx" style="left:213.4px;top:865.92px;font-size:13.8px;letter-spacing:0.4px;color:#1b4290;">Capacitors</div><div class="tx" style="left:213.4px;top:880.12px;font-size:13.8px;letter-spacing:0.4px;color:#1b4290;">(Film Capacitors)</div><div class="sp" style="left:214px;top:898px;width:163.7px;height:2px;background:linear-gradient(#d8e8cc 50%,#b4c8a2 50%)"></div><div class="tx" style="left:213.4px;top:910.02px;font-size:13.8px;letter-spacing:0.4px;color:#1b4290;">Reactors for Power</div><div class="tx" style="left:213.4px;top:924.22px;font-size:13.8px;letter-spacing:0.4px;color:#1b4290;">Electronics</div><div class="sp" style="left:214px;top:949px;width:163.7px;height:2px;background:linear-gradient(#d8e8cc 50%,#b4c8a2 50%)"></div><div class="tx" style="left:213.4px;top:967.12px;font-size:13.8px;letter-spacing:0.4px;color:#1b4290;">LCL Filters</div><div class="sp" style="left:214px;top:1000px;width:163.7px;height:2px;background:linear-gradient(#d8e8cc 50%,#b4c8a2 50%)"></div><div class="tx" style="left:213.4px;top:1005.22px;font-size:13.8px;letter-spacing:0.4px;color:#1b4290;">Flat Wire Ring</div><div class="tx" style="left:213.4px;top:1019.42px;font-size:13.8px;letter-spacing:0.4px;color:#1b4290;">Core Choke</div><div class="tx" style="left:213.4px;top:1033.62px;font-size:13.8px;letter-spacing:0.4px;color:#1b4290;">(Contact us)</div><div class="card" style="left:408px;top:707px;width:388px;height:328px;border-color:#3a928e;box-shadow:inset 0 0 0 1px #a5d6d4"></div><div class="chd" style="left:408px;top:707px;width:388px;height:24px;background:#1f9a94;border-color:#3a928e"></div><div class="cht" style="left:501.70000000000005px;top:710.4px;color:#fffaf0;letter-spacing:0.03px">DC-DC HF Converter</div><div class="tx" style="left:417.4px;top:736.32px;font-size:13.8px;letter-spacing:0.4px;color:#1b4290;">Metallized</div><div class="tx" style="left:417.4px;top:750.52px;font-size:13.8px;letter-spacing:0.4px;color:#1b4290;">Polypropylene</div><div class="tx" style="left:417.4px;top:764.72px;font-size:13.8px;letter-spacing:0.4px;color:#1b4290;">Capacitors</div><div class="tx" style="left:417.4px;top:778.92px;font-size:13.8px;letter-spacing:0.4px;color:#1b4290;">(Film Capacitors)</div><div class="sp" style="left:418.6px;top:795px;width:173.39999999999998px;height:2px;background:linear-gradient(#cdeaea 50%,#a6d0cf 50%)"></div><div class="tx" style="left:417.4px;top:807.72px;font-size:13.8px;letter-spacing:0.4px;color:#1b4290;">NTC Sensor</div><div class="tx" style="left:417.4px;top:821.92px;font-size:13.8px;letter-spacing:0.4px;color:#1b4290;">Assembly/Systems</div><div class="sp" style="left:418.6px;top:847px;width:173.39999999999998px;height:2px;background:linear-gradient(#cdeaea 50%,#a6d0cf 50%)"></div><div class="sp" style="left:418px;top:863.6px;width:3.2px;height:16.799999999999955px;background:#1f9a94"></div><div class="tx" style="left:424.5px;top:864.90px;font-size:14.3px;letter-spacing:0.36px;color:#111;">for LLC Resonant</div><div class="sp" style="left:418.6px;top:885px;width:173.39999999999998px;height:2px;background:linear-gradient(#cdeaea 50%,#a6d0cf 50%)"></div><div class="tx" style="left:417.4px;top:890.32px;font-size:13.8px;letter-spacing:0.4px;color:#1b4290;">Resonant</div><div class="tx" style="left:417.4px;top:904.52px;font-size:13.8px;letter-spacing:0.4px;color:#1b4290;">Choke</div><div class="tx" style="left:417.4px;top:918.72px;font-size:13.8px;letter-spacing:0.4px;color:#1b4290;">(Contact us)</div><div class="sp" style="left:418.6px;top:936px;width:173.39999999999998px;height:2px;background:linear-gradient(#cdeaea 50%,#a6d0cf 50%)"></div><div class="sp" style="left:418px;top:953.6px;width:3.2px;height:16.399999999999977px;background:#1f9a94"></div><div class="tx" style="left:424.5px;top:954.90px;font-size:14.3px;letter-spacing:0.36px;color:#111;">for Buck/Boost</div><div class="sp" style="left:418.6px;top:975px;width:173.39999999999998px;height:2px;background:linear-gradient(#cdeaea 50%,#a6d0cf 50%)"></div><div class="tx" style="left:414.2px;top:987.32px;font-size:13.8px;letter-spacing:0.4px;color:#1b4290;">Storage</div><div class="tx" style="left:414.2px;top:1001.52px;font-size:13.8px;letter-spacing:0.4px;color:#1b4290;">Choke</div><div class="tx" style="left:414.2px;top:1015.72px;font-size:13.8px;letter-spacing:0.4px;color:#1b4290;">(Contact us)</div><div class="tx" style="left:611.4px;top:749.32px;font-size:13.8px;letter-spacing:0.4px;color:#1b4290;">Current Sense</div><div class="tx" style="left:611.4px;top:763.52px;font-size:13.8px;letter-spacing:0.4px;color:#1b4290;">Transformer</div><div class="sp" style="left:612px;top:795px;width:174px;height:2px;background:linear-gradient(#cdeaea 50%,#a6d0cf 50%)"></div><div class="tx" style="left:611.4px;top:813.72px;font-size:13.8px;letter-spacing:0.4px;color:#1b4290;">Ferrite Cores</div><div class="sp" style="left:612px;top:847px;width:174px;height:2px;background:linear-gradient(#cdeaea 50%,#a6d0cf 50%)"></div><div class="sp" style="left:612px;top:885px;width:174px;height:2px;background:linear-gradient(#cdeaea 50%,#a6d0cf 50%)"></div><div class="tx" style="left:611.4px;top:898.32px;font-size:13.8px;letter-spacing:0.4px;color:#1b4290;">Transformers</div><div class="tx" style="left:611.4px;top:912.52px;font-size:13.8px;letter-spacing:0.4px;color:#1b4290;">(Contact us)</div><div class="sp" style="left:612px;top:936px;width:174px;height:2px;background:linear-gradient(#cdeaea 50%,#a6d0cf 50%)"></div><div class="card" style="left:816px;top:706px;width:184px;height:281px;border-color:#679242;box-shadow:inset 0 0 0 1px #bed6aa"></div><div class="chd" style="left:816px;top:706px;width:184px;height:25px;background:#5e9a2b;border-color:#679242"></div><div class="cht" style="left:811.2px;top:711.2px;color:#eef8e4;letter-spacing:0.37px">Output EMI Filter</div><div class="tx" style="left:825.9px;top:735.52px;font-size:13.8px;letter-spacing:0.4px;color:#1b4290;">EMI Suppression</div><div class="tx" style="left:825.9px;top:749.72px;font-size:13.8px;letter-spacing:0.4px;color:#1b4290;">Capacitors</div><div class="tx" style="left:825.9px;top:763.92px;font-size:13.8px;letter-spacing:0.4px;color:#1b4290;">(Film Capacitors)</div><div class="sp" style="left:827px;top:781px;width:161.60000000000002px;height:2px;background:linear-gradient(#d8e8cc 50%,#b4c8a2 50%)"></div><div class="tx" style="left:825.9px;top:786.32px;font-size:13.8px;letter-spacing:0.4px;color:#1b4290;">Disc Type</div><div class="tx" style="left:825.9px;top:800.52px;font-size:13.8px;letter-spacing:0.4px;color:#1b4290;">Capacitors</div><div class="tx" style="left:825.9px;top:814.72px;font-size:13.8px;letter-spacing:0.4px;color:#1b4290;">with Lead</div><div class="sp" style="left:827px;top:832px;width:161.60000000000002px;height:2px;background:linear-gradient(#d8e8cc 50%,#b4c8a2 50%)"></div><div class="tx" style="left:825.9px;top:845.02px;font-size:13.8px;letter-spacing:0.4px;color:#1b4290;">Power Line</div><div class="tx" style="left:825.9px;top:859.22px;font-size:13.8px;letter-spacing:0.4px;color:#1b4290;">Chokes</div><div class="sp" style="left:827px;top:883px;width:161.60000000000002px;height:2px;background:linear-gradient(#d8e8cc 50%,#b4c8a2 50%)"></div><div class="tx" style="left:825.9px;top:895.32px;font-size:13.8px;letter-spacing:0.4px;color:#1b4290;">Ferrite Cores</div><div class="tx" style="left:825.9px;top:909.52px;font-size:13.8px;letter-spacing:0.4px;color:#1b4290;">(Toroid Cores)</div><div class="sp" style="left:827px;top:934px;width:161.60000000000002px;height:2px;background:linear-gradient(#d8e8cc 50%,#b4c8a2 50%)"></div><div class="tx" style="left:825.9px;top:946.62px;font-size:13.8px;letter-spacing:0.4px;color:#1b4290;">Power Line</div><div class="tx" style="left:825.9px;top:960.82px;font-size:13.8px;letter-spacing:0.4px;color:#1b4290;">EMC Filters</div><svg class="im" width="1000" height="1055" viewBox="0 0 1000 1055"><defs>
<linearGradient id="gBlue" x1="0" x2="1"><stop offset="0" stop-color="#1a7cc8"/><stop offset=".12" stop-color="#228ad6"/><stop offset=".85" stop-color="#2490dc"/><stop offset="1" stop-color="#1a78c2"/></linearGradient>
<linearGradient id="gBlk" x1="0" x2="1"><stop offset="0" stop-color="#050505"/><stop offset=".3" stop-color="#1e1e1e"/><stop offset=".55" stop-color="#121212"/><stop offset="1" stop-color="#040404"/></linearGradient>
<linearGradient id="gBlk2" x1="0" x2="1"><stop offset="0" stop-color="#0a0a0a"/><stop offset=".35" stop-color="#3a3a3a"/><stop offset=".6" stop-color="#222"/><stop offset="1" stop-color="#080808"/></linearGradient>
<linearGradient id="gSil" x1="0" x2="1"><stop offset="0" stop-color="#8c8c8c"/><stop offset=".3" stop-color="#dedede"/><stop offset=".55" stop-color="#c4c4c4"/><stop offset="1" stop-color="#7c7c7c"/></linearGradient>
<linearGradient id="gCu" x1="0" x2="1"><stop offset="0" stop-color="#7a3c1c"/><stop offset=".5" stop-color="#c87a48"/><stop offset="1" stop-color="#7a3c1c"/></linearGradient>
<radialGradient id="gDisc" cx=".4" cy=".35" r=".75"><stop offset="0" stop-color="#3d8ad8"/><stop offset="1" stop-color="#2466b4"/></radialGradient>
<radialGradient id="gTor" cx=".5" cy=".45" r=".55"><stop offset=".5" stop-color="#33a4ec"/><stop offset=".8" stop-color="#1c8ad6"/><stop offset="1" stop-color="#1270c0"/></radialGradient>
<linearGradient id="gEmc" x1="0" x2="1"><stop offset="0" stop-color="#97a8aa"/><stop offset=".5" stop-color="#b4c2c4"/><stop offset="1" stop-color="#94a4a6"/></linearGradient>
<linearGradient id="gRing" x1="0" x2="1"><stop offset="0" stop-color="#8a4e2c"/><stop offset=".5" stop-color="#b87446"/><stop offset="1" stop-color="#7a4024"/></linearGradient>
</defs><path d="M152.3 419V455" stroke="#a8b2b8" stroke-width="1.5"/><path d="M161.3 419V455" stroke="#a8b2b8" stroke-width="1.5"/><circle cx="156.8" cy="419" r="9.5" fill="url(#gDisc)"/><circle cx="156.8" cy="419" r="8.9" fill="none" stroke="#1f5ca8" stroke-width="1" opacity=".5"/><rect x="141" y="461.2" width="31" height="41.4" rx="1.5" fill="#111"/><rect x="141" y="461.2" width="31" height="4.5" rx="1.5" fill="#3a3a3a"/><path d="M145.5 484l3-6 3 6z" fill="#c8a050"/><path d="M154 478h8M154 481h6M154 484h7M155 488h5" stroke="#777" stroke-width=".6"/><path d="M150 502.6V506" stroke="#999" stroke-width="1"/><path d="M156.5 502.6V506" stroke="#999" stroke-width="1"/><path d="M163 502.6V506" stroke="#999" stroke-width="1"/><path d="M156.4 512V556.4" stroke="#8a969c" stroke-width="2.2"/><rect x="149" y="529.5" width="14.8" height="11.4" rx="2" fill="#2a6cb8"/><rect x="149" y="529.5" width="14.8" height="2.2" rx="1" fill="#5a94d0"/><rect x="150.5" y="532" width="11.8" height="7" fill="#1d5aa0"/><text x="156.4" y="538.6" text-anchor="middle" font-size="6.8" font-weight="bold" fill="#fff" font-family="Liberation Sans">PC</text><path d="M154.8 571.3V607" stroke="#a8b2b8" stroke-width="1.5"/><path d="M159.2 571.3V607" stroke="#a8b2b8" stroke-width="1.5"/><circle cx="157" cy="571.3" r="8" fill="url(#gDisc)"/><circle cx="157" cy="571.3" r="7.4" fill="none" stroke="#1f5ca8" stroke-width="1" opacity=".5"/><path d="M344 463.5V470.8" stroke="#8a9aa4" stroke-width="1.3"/><path d="M368 463.5V470.8" stroke="#8a9aa4" stroke-width="1.3"/><rect x="340" y="431.3" width="32" height="33.19999999999999" rx="1.2" fill="url(#gBlue)"/><rect x="340" y="431.3" width="32" height="1.6" fill="#1668b0" opacity=".7"/><rect x="340" y="463.1" width="32" height="1.4" fill="#1668b0" opacity=".6"/><path d="M346 492.5V532" stroke="#7a98b0" stroke-width="1.2"/><circle cx="346" cy="490.0" r="2.3" fill="none" stroke="#666" stroke-width="1.1"/><ellipse cx="346" cy="497.5" rx="2" ry="3.3" fill="#1a1a1a"/><path d="M362.5 497.5V532M365.5 497.5V532" stroke="#b8c0c4" stroke-width="0.9"/><rect x="361.3" y="493.5" width="5.4" height="5.5" fill="#f4f4f4" stroke="#888" stroke-width=".8"/><path d="M364 488.5V493.5" stroke="#888" stroke-width="1.4"/><path d="M341.5 611h10.5v18.8h-10.5zM361 611h10.5v18.8h-10.5z" fill="#62808a"/><ellipse cx="346.8" cy="624" rx="3" ry="2.6" fill="#fff"/><ellipse cx="366.2" cy="624" rx="3" ry="2.6" fill="#fff"/><rect x="339.3" y="588.9" width="34.599999999999966" height="24.600000000000023" rx="1.2" fill="url(#gBlue)"/><rect x="339.3" y="588.9" width="34.599999999999966" height="1.6" fill="#1668b0" opacity=".7"/><rect x="339.3" y="612.1" width="34.599999999999966" height="1.4" fill="#1668b0" opacity=".6"/><path d="M334 675.4l3-7.6h39.6l3 7.6z" fill="#9aa0a2"/><rect x="341.6" y="655.4" width="30.4" height="14.3" fill="#b57c44"/><path d="M341.6 655.4l2-1.5h26.4l2 1.5z" fill="#d4a36a"/><rect x="341.6" y="655.4" width="30.4" height="2.5" fill="#cf9c62"/><rect x="553.2" y="414.8" width="28.399999999999977" height="50.89999999999998" rx="2.5" fill="url(#gBlk)"/><ellipse cx="567.4000000000001" cy="415.8" rx="13.899999999999988" ry="2.6" fill="#1a1a1a"/><ellipse cx="561.72" cy="415.3" rx="3.691999999999997" ry="1.6" fill="#b8b8b8"/><ellipse cx="573.08" cy="415.3" rx="3.691999999999997" ry="1.6" fill="#b8b8b8"/><path d="M554.2 423.78000000000003H580.6" stroke="#3a3a3a" stroke-width="1"/><path d="M559.4480000000001 439.5l2.5-4 2.5 4z" fill="#ddd" opacity=".8"/><path d="M558.88 443.692h14.199999999999989M558.88 446.836h9.93999999999999" stroke="#777" stroke-width=".6"/><rect x="558.3" y="487.5" width="22.300000000000068" height="31.100000000000023" rx="2.5" fill="url(#gBlk)"/><ellipse cx="569.45" cy="488.5" rx="10.850000000000033" ry="2.6" fill="#1a1a1a"/><path d="M559.3 492.52H579.6" stroke="#3a3a3a" stroke-width="1"/><path d="M563.206 502.3l2.5-4 2.5 4z" fill="#ddd" opacity=".8"/><path d="M562.76 504.908h11.150000000000034M562.76 506.86400000000003h7.805000000000024" stroke="#777" stroke-width=".6"/><path d="M561 493h10M561 497h14M561 501h8" stroke="#bbb" stroke-width=".7"/><rect x="555.3" y="540.6" width="25.300000000000068" height="40.89999999999998" rx="2.5" fill="url(#gSil)"/><ellipse cx="567.95" cy="542.6" rx="12.350000000000033" ry="2" fill="#3a3a3a"/><path d="M566.685 559.005l2-3.5 2 3.5z" fill="#444" opacity=".8"/><path d="M562.89 563.095h11.385000000000032M562.89 565.958h10.120000000000028M562.89 568.821h11.385000000000032" stroke="#888" stroke-width=".6"/><circle cx="568" cy="582" r="1.6" fill="#999"/><path d="M555.3 596.5q0-2.5 2.5-2.5h20q2.2 0 2.2 2.5v31.5h-4v2h-6v-2h-5v2h-6v-2h-3.7z" fill="#141414"/><rect x="556" y="594.5" width="23.5" height="3" fill="#333"/><path d="M567.8 630V635.3" stroke="#aaa" stroke-width="1"/><rect x="754" y="421.5" width="20" height="41.5" rx="2.5" fill="url(#gBlk)"/><ellipse cx="764.0" cy="422.5" rx="9.7" ry="2.6" fill="#1a1a1a"/><ellipse cx="760.0" cy="422" rx="2.6" ry="1.6" fill="#b8b8b8"/><ellipse cx="768.0" cy="422" rx="2.6" ry="1.6" fill="#b8b8b8"/><path d="M755 428.6H773" stroke="#3a3a3a" stroke-width="1"/><path d="M758.4 441.5l2.5-4 2.5 4z" fill="#ddd" opacity=".8"/><path d="M758.0 444.94h10.0M758.0 447.52h7.0" stroke="#777" stroke-width=".6"/><path d="M758 463V466" stroke="#888" stroke-width="0.8"/><path d="M770 463V466" stroke="#888" stroke-width="0.8"/><path d="M780.9 508V515.5" stroke="#b0b0b0" stroke-width="0.9"/><path d="M757.5 487L777.5 492.8V509.2L757.5 504Z" fill="#4a80c2"/><path d="M777.5 492.8L783.7 490.5V506.5L777.5 509.2Z" fill="#2c5c9c"/><path d="M757.5 487L763.8 484.6L783.7 490.5L777.5 492.8Z" fill="#5a8ed0"/><path d="M733.1 502.4L763.8 509.8V521.8L733.1 513.8Z" fill="#4a80c4"/><path d="M763.8 509.8L772.9 504.1V515.5L763.8 521.8Z" fill="#2e5e9e"/><path d="M733.1 502.4L742.8 496.4L772.9 504.1L763.8 509.8Z" fill="#5890d0"/><circle cx="742" cy="500.5" r="1" fill="#1a3a6a"/><path d="M748 503l15 3.5" stroke="#3a6aa8" stroke-width="1.6"/><path d="M738.2 514V518" stroke="#b0b0b0" stroke-width="0.9"/><path d="M766.6 521V525.7" stroke="#b0b0b0" stroke-width="0.9"/><rect x="746.2" y="572.8" width="36.4" height="4" fill="#0e0e0e"/><rect x="749" y="549" width="30.7" height="25" fill="#262626"/><rect x="749" y="549" width="30.7" height="2.6" fill="#4a7cb0"/><rect x="754.5" y="549.6" width="4.5" height="1.6" fill="#f0f0f0"/><rect x="771" y="549.6" width="4.5" height="1.6" fill="#f0f0f0"/><path d="M943.5 437c-2-8-2-16 1-20s5-6 8-6.5" stroke="#151515" stroke-width="1.2" fill="none"/><path d="M945 437.5c-1-9 0-16 3-20s4-5 6-6" stroke="#2a2a2a" stroke-width="1" fill="none"/><path d="M951.5 410.5l2.5-1" stroke="#ddd" stroke-width="1.5"/><ellipse cx="945.6" cy="444" rx="9.2" ry="8.6" fill="#8c5030"/><ellipse cx="945.9" cy="443.6" rx="7.8" ry="7.6" fill="#c07c4c"/><ellipse cx="945.9" cy="443.6" rx="6.2" ry="6" fill="none" stroke="#d89a68" stroke-width="1.6" stroke-dasharray="1.2 .9"/><ellipse cx="946.7" cy="443.5" rx="2.6" ry="3.4" fill="#141414"/><path d="M964 414.5l6-3.5h21l2 4v9h-29z" fill="#8a8f97"/><rect x="976" y="412" width="6" height="2.5" fill="#c8d0d8"/><circle cx="966" cy="416" r="1" fill="#fff"/><circle cx="991" cy="417" r="1" fill="#fff"/><rect x="964.3" y="421.5" width="12.5" height="21" fill="#cfcfca"/><rect x="964.3" y="421.5" width="2" height="21" fill="#b4b4b0"/><rect x="977.3" y="423.5" width="14.5" height="19" fill="#c8c8c3"/><rect x="989.5" y="423.5" width="2.3" height="19" fill="#a8a8a4"/><rect x="971" y="417.5" width="4.5" height="4.5" rx="1" fill="#c8885a"/><rect x="977.5" y="418.5" width="4.5" height="4.5" rx="1" fill="#c8885a"/><rect x="965" y="420.5" width="6" height="2" fill="#c07a44"/><rect x="978" y="422.5" width="6" height="2" fill="#c07a44"/><path d="M966 441.5h22l-2 5h-19z" fill="#b8743e"/><path d="M965 446.5h27l2 6.5h-30z" fill="#8c939a"/><path d="M978 519c5 4 9 9 8 14s-9 6-18 8" stroke="#b83a2a" stroke-width=".9" fill="none"/><path d="M978.5 518c6 4 9.5 9 8.5 14.5s-10 6.5-19 8" stroke="#555" stroke-width=".7" fill="none"/><path d="M968 541l-2 .5" stroke="#ddd" stroke-width="1.2"/><rect x="953" y="527.3" width="31" height="5" rx="1.5" fill="#2452b8"/><rect x="956" y="497.4" width="22.5" height="37.4" rx="1" fill="#2152c0"/><rect x="956" y="497.4" width="22.5" height="5.5" fill="#2a5cc8"/><rect x="957" y="503" width="20.5" height="6" fill="#1a46a8"/><circle cx="961" cy="506" r="2.1" fill="#9ba6b4"/><circle cx="971" cy="506" r="2.1" fill="#9ba6b4"/><rect x="959.3" y="523" width="16" height="10.7" fill="#f2f2f2"/><path d="M960.5 525.5h4M960.5 528h8M960.5 530.5h6M970 525.5h3" stroke="#777" stroke-width=".7"/><rect x="125.8" y="736.2" width="41.8" height="41.299999999999955" rx="1.2" fill="url(#gBlue)"/><rect x="125.8" y="736.2" width="41.8" height="1.6" fill="#1668b0" opacity=".7"/><rect x="125.8" y="776.1" width="41.8" height="1.4" fill="#1668b0" opacity=".6"/><path d="M140 742h10M152 742h10" stroke="#1060a8" stroke-width="1" opacity=".6"/><ellipse cx="108" cy="820.5" rx="19" ry="4.5" fill="#1f5fa8"/><path d="M91 805v14q17 5 34 0v-14z" fill="#7a4a58"/><path d="M98 806v15M101.5 806v16M105 806v16M108.5 806v16M112 806v16M115.5 806v16M119 806v15M122 806v14" stroke="#c8d2de" stroke-width="1.6"/><ellipse cx="108" cy="805" rx="17" ry="5.5" fill="#6a3c4a"/><ellipse cx="108" cy="805" rx="8" ry="2.3" fill="#e8e8e8"/><path d="M92 808v10" stroke="#8aa8c0" stroke-width="3"/><rect x="130" y="814" width="35.5" height="10" fill="#2a62ac"/><circle cx="147.7" cy="805.5" r="15.5" fill="#2a74c2"/><path d="M143.77 794.69A11.5 11.5 0 0 0 143.77 816.31M151.63 816.31A11.5 11.5 0 0 0 151.63 794.69" fill="none" stroke="#c47a44" stroke-width="8" stroke-dasharray="1.1 .8"/><path d="M143.77 794.69A11.5 11.5 0 0 0 143.77 816.31M151.63 816.31A11.5 11.5 0 0 0 151.63 794.69" fill="none" stroke="#8a4a24" stroke-width="8" stroke-dasharray=".5 1.4" opacity=".5"/><circle cx="147.7" cy="805.5" r="6.5" fill="#fff"/><path d="M147.7 798.5v26" stroke="#7a8a9a" stroke-width="1.8"/><path d="M144.7 800.5l-4 23M150.7 800.5l4 23" stroke="#b06a34" stroke-width="1.2"/><path d="M134 824V827.5" stroke="#888" stroke-width="1"/><path d="M147.7 824V827.5" stroke="#888" stroke-width="1"/><path d="M161 824V827.5" stroke="#888" stroke-width="1"/><ellipse cx="146.3" cy="858.5" rx="19.3" ry="20" fill="url(#gTor)"/><ellipse cx="146.3" cy="859.3" rx="19.0" ry="19.6" fill="none" stroke="#0f64b0" stroke-width="1.2" opacity=".6"/><ellipse cx="146.3" cy="859.3" rx="13.0" ry="11.5" fill="#1470bc"/><ellipse cx="146.3" cy="858.5" rx="11.8" ry="10.3" fill="#fff"/><rect x="118.5" y="904.0" width="8.900000000000006" height="2.8" rx="1" fill="#c4582c"/><rect x="164.5" y="904.0" width="8.099999999999994" height="2.8" rx="1" fill="#c4582c"/><rect x="118.5" y="912.6" width="8.900000000000006" height="2.8" rx="1" fill="#c4582c"/><rect x="164.5" y="912.6" width="8.099999999999994" height="2.8" rx="1" fill="#c4582c"/><rect x="118.5" y="920.4" width="8.900000000000006" height="2.8" rx="1" fill="#c4582c"/><rect x="164.5" y="920.4" width="8.099999999999994" height="2.8" rx="1" fill="#c4582c"/><path d="M129.4 892.6h33.099999999999994l3 6v28.799999999999955q0 1.5-1.5 1.5h-36.099999999999994q-1.5 0-1.5-1.5v-28.799999999999955z" fill="url(#gEmc)"/><path d="M129.4 892.6h33.099999999999994l3 6h-39.099999999999994z" fill="#b6c4c6"/><circle cx="132.4" cy="895.1" r="1.2" fill="#fff"/><circle cx="159.5" cy="895.1" r="1.2" fill="#fff"/><rect x="133.43800000000002" y="906.394" width="25.023999999999997" height="15.245999999999981" fill="#dfe6e6"/><path d="M144.777 911.476l2-3 2 3z" fill="#444"/><path d="M121 951l45-3.5 3.5 2v22.5l-46.5 4-2.5-1.5z" fill="#c4c8cc"/><path d="M121 951l45-3.5 3.5 2-45 3.5z" fill="#e4e6e8"/><path d="M133 950.5l28-2" stroke="#d08040" stroke-width="1" opacity=".6"/><path d="M145 963l3-5 3 5z" fill="#555"/><path d="M142 966h11" stroke="#777" stroke-width=".8"/><path d="M121 974l-2 2h5" stroke="#999" stroke-width="1"/><rect x="319.7" y="738.6" width="38.3" height="35.9" rx="1" fill="#dcdedf"/><rect x="319.7" y="738.6" width="38.3" height="3.5" fill="#c4c6c8"/><path d="M329 739v3M339 739v3M349 739v3" stroke="#eee" stroke-width="2"/><path d="M323 759l2.2-3.8 2.2 3.8z" fill="#444"/><path d="M330 756h6M330 759h5M341 756h7M341 759h6M324 764h4M330 764h5M341 764h8M341 767h6" stroke="#777" stroke-width=".7"/><text x="349.5" y="760" font-size="5.5" fill="#333" font-family="Liberation Sans">CE</text><path d="M322 774.5V777" stroke="#999" stroke-width="0.8"/><path d="M355 774.5V777" stroke="#999" stroke-width="0.8"/><rect x="360.3" y="739.4" width="16.899999999999977" height="36.60000000000002" rx="2.5" fill="url(#gSil)"/><path d="M367.905 755.87l2-3.5 2 3.5z" fill="#444" opacity=".8"/><path d="M365.37 759.53h7.60499999999999M365.37 762.092h6.759999999999991M365.37 764.654h7.60499999999999" stroke="#888" stroke-width=".6"/><path d="M365 737.5v3M372.5 737.5v3" stroke="#666" stroke-width="1.6"/><ellipse cx="368.75" cy="740.5" rx="8" ry="1.5" fill="#8a8a8a"/><rect x="343" y="786.5" width="20.399999999999977" height="41.89999999999998" rx="2.5" fill="url(#gSil)"/><ellipse cx="353.2" cy="788.5" rx="9.899999999999988" ry="2" fill="#3a3a3a"/><path d="M352.18 805.355l2-3.5 2 3.5z" fill="#444" opacity=".8"/><path d="M349.12 809.545h9.17999999999999M349.12 812.478h8.159999999999991M349.12 815.411h9.17999999999999" stroke="#888" stroke-width=".6"/><path d="M348.5 783.5v4M357.5 783.5v4" stroke="#222" stroke-width="2.4"/><circle cx="353.2" cy="829" r="1.6" fill="#999"/><path d="M341.7 883V891" stroke="#8a9aa4" stroke-width="1.3"/><path d="M365.7 883V891" stroke="#8a9aa4" stroke-width="1.3"/><rect x="337.7" y="849.5" width="32.0" height="34.5" rx="1.2" fill="url(#gBlue)"/><rect x="337.7" y="849.5" width="32.0" height="1.6" fill="#1668b0" opacity=".7"/><rect x="337.7" y="882.6" width="32.0" height="1.4" fill="#1668b0" opacity=".6"/><rect x="347.3" y="904.8" width="13.7" height="5.5" fill="#8a9094"/><path d="M348 906h12M348 908h12" stroke="#b0b6ba" stroke-width=".6"/><path d="M350 910l-9 5M353 910l-3 5M356 910l3 5M359 910l8 5" stroke="#d8c030" stroke-width="1.6"/><rect x="339" y="913.8" width="29.6" height="22.7" fill="#dcd4a4"/><path d="M339 913.8h29.6v3h-29.6z" fill="#a8a880"/><path d="M345 914v22.5M349 914v22.5M355 914v22.5M358.5 914v22.5M364 914v22.5" stroke="#9a946a" stroke-width="1"/><rect x="362.5" y="917" width="2.5" height="19" fill="#fff8e0"/><rect x="341" y="936.5" width="25.6" height="6.8" fill="#a6acb0"/><path d="M341 939h25.6M341 941h25.6" stroke="#c8cccf" stroke-width=".6"/><path d="M324 990l3-10h50l2.6 10z" fill="#a4aaac"/><rect x="327" y="977" width="50" height="4" fill="#c4c8ca"/><rect x="342" y="956.8" width="24" height="3" fill="#8a9094"/><rect x="340" y="959" width="27" height="19" fill="#ece6c0"/><path d="M343 959v19M347.5 959v19M352 959v19M356.5 959v19M361 959v19M365 959v19" stroke="#d4bc28" stroke-width="1.6"/><path d="M343 974v4M347.5 974v4M352 974v4M356.5 974v4M361 974v4" stroke="#222" stroke-width="1.6"/><rect x="366" y="975" width="11" height="5.5" rx="1" fill="#1e3c7a"/><rect x="329.4" y="974" width="7.6" height="10" fill="#c8b448"/><rect x="330" y="975" width="5" height="3" fill="#2a2a2a" opacity=".5"/><path d="M325 1032.5l30-6.5M325 1037l30-6.5" stroke="#c8844c" stroke-width="1.7"/><path d="M323.5 1033l2-.5M323.5 1037.5l2-.5" stroke="#ccc" stroke-width="2"/><ellipse cx="367.3" cy="1031" rx="12.4" ry="7.5" fill="#9c6238"/><ellipse cx="367.3" cy="1025" rx="12.4" ry="7" fill="#c28a5a"/><rect x="354.9" y="1025" width="24.8" height="6" fill="#b07848"/><ellipse cx="367.3" cy="1024.5" rx="4" ry="2.3" fill="#2a9a40"/><rect x="360" y="1030" width="15" height="6" fill="#8aa4bc" opacity=".85"/><path d="M551 776V783.6" stroke="#8a9aa4" stroke-width="1.3"/><path d="M575 776V783.6" stroke="#8a9aa4" stroke-width="1.3"/><rect x="547" y="744" width="32" height="33" rx="1.2" fill="url(#gBlue)"/><rect x="547" y="744" width="32" height="1.6" fill="#1668b0" opacity=".7"/><rect x="547" y="775.6" width="32" height="1.4" fill="#1668b0" opacity=".6"/><path d="M555 805V845" stroke="#4a86c0" stroke-width="1.2"/><circle cx="555" cy="802.5" r="2.3" fill="none" stroke="#666" stroke-width="1.1"/><ellipse cx="555" cy="810" rx="2" ry="3.3" fill="#1a1a1a"/><path d="M571.5 810V845M574.5 810V845" stroke="#b8c0c4" stroke-width="0.9"/><rect x="570.3" y="806" width="5.4" height="5.5" fill="#f4f4f4" stroke="#888" stroke-width=".8"/><path d="M573 801V806" stroke="#888" stroke-width="1.4"/><path d="M511.7 904.2q16.15 5 32.3 0v22.5q-16.15-5-32.3 0z" fill="#1c1c1c"/><rect x="512.2" y="893.2" width="7" height="13" rx="1" fill="#aeb2b6"/><rect x="536.5" y="893.2" width="7" height="13" rx="1" fill="#9ea2a6"/><rect x="512.2" y="893.2" width="2.5" height="13" fill="#d8dcdf"/><path d="M519.2 906.7q0-11 8.65-11.5 8.65.5 8.65 11.5q-8.65 2-17.3 0z" fill="#a06040"/><path d="M520.7 899.2h14M520.2 902.2h15M520.2 905.2h15" stroke="#d08850" stroke-width=".9"/><ellipse cx="527.85" cy="903.2" rx="3" ry="1.5" fill="#e07840"/><path d="M514.7 930.2v-3q13.15-7 26.3 0v3z" fill="#8a5a3e"/><rect x="512.7" y="927.7" width="30.3" height="3.5" fill="#6a5044"/><path d="M521.7 928.2v3M533.7 928.2v3" stroke="#e8e8e8" stroke-width="2"/><path d="M574.2 897.3l4-2 11 6-1 5-3 1z" fill="#161616"/><path d="M554.2 910.3l10-5 7 3-9 6z" fill="#1a1a1a"/><path d="M561.2 905.3l12-7 14 8v17l-11 7-15-8z" fill="#eeeeee"/><path d="M561.2 903.3l8-4 16 8-8 5z" fill="#e4e030"/><path d="M577.2 912.3l8-5v18l-8 5z" fill="#d8d428"/><path d="M562.2 914.3q6 1 8 8" stroke="#888" stroke-width="1" fill="none"/><path d="M553.2 917.3l10 5v8l-10-5z" fill="#1c1c1c"/><path d="M555.2 921.3h7M555.2 925.3h7" stroke="#444" stroke-width="1"/><path d="M586.2 909.3l4 6-3 4z" fill="#1a1a1a"/><path d="M558.2 928.3v4M564.2 930.3v3M570.2 928.3v4" stroke="#ccc" stroke-width="1.2"/><rect x="508.2" y="997.6" width="33" height="22.7" rx="1.5" fill="#383838"/><rect x="508.2" y="997.6" width="33" height="3" fill="#555"/><rect x="511" y="1002.5" width="27.5" height="14" fill="#5a5e5c"/><path d="M512 1011q10-8 26-3" stroke="#c86a30" stroke-width="4" fill="none"/><path d="M513 1009q10-6 24-2" stroke="#e89050" stroke-width="1" fill="none"/><rect x="512" y="1010" width="6" height="5" fill="#c45e24"/><rect x="531" y="1013" width="6" height="6" fill="#c45e24"/><path d="M547 1016l20-7.5M550 1021l20-7.5" stroke="#e4e8ec" stroke-width="3"/><path d="M547 1016l20-7.5M550 1021l20-7.5" stroke="#9aa4ae" stroke-width=".6"/><ellipse cx="546.5" cy="1016.5" rx="2.5" ry="1.8" fill="none" stroke="#9aa8b8" stroke-width="1"/><ellipse cx="549.5" cy="1021.5" rx="2.5" ry="1.8" fill="none" stroke="#9aa8b8" stroke-width="1"/><path d="M562 1003l13-8 16 7v15l-14 8.5-15-7z" fill="#4c4c4c"/><path d="M562 1003l13-8 16 7-15 7.5z" fill="#707070"/><path d="M576 1009.5v15.5" stroke="#383838" stroke-width="1"/><path d="M568 1000q8 2 10 8" stroke="#555" stroke-width="2" fill="none"/><path d="M739.1 743.4h34.9v21.9h2.7v21.4h-17.8v-10.5h-12.5v10.5h-8.9v-21.4h1.6z" fill="#3a3e3c"/><rect x="739.1" y="743.4" width="34.9" height="9" fill="#1c1e1d"/><path d="M742 746h5M749 746h5M756 746h4M762 746h6M742 749h28" stroke="#444" stroke-width=".8"/><path d="M756.5 752v24" stroke="#2e3230" stroke-width="1"/><rect x="736" y="786.7" width="7" height="2.5" fill="#d8d8d8"/><rect x="770" y="786.7" width="7" height="2" fill="#d8d8d8"/><path d="M731.8 809l2-2.5h9.7v13h26v-13h9.9l2 2.5v30.9h-11.9v-5h-25.8v5h-11.9z" fill="#2e2e2e"/><path d="M733.8 806.5h9.7v3h-9.7zM769.5 806.5h9.9v3h-9.9z" fill="#3c3c3c"/><path d="M735 812q4-3 8.5 1M776 812q-4-3-7.5 1" stroke="#1a1a1a" stroke-width="2" fill="none"/><rect x="746.4" y="811" width="20.4" height="24.7" fill="#333"/><ellipse cx="756.6" cy="811" rx="10.2" ry="2.6" fill="#474747"/><ellipse cx="756.6" cy="835.5" rx="10.2" ry="1.8" fill="#262626"/><path d="M707 904q16.15 5 32.3 0v22.5q-16.15-5-32.3 0z" fill="#1c1c1c"/><rect x="707.5" y="893" width="7" height="13" rx="1" fill="#aeb2b6"/><rect x="731.8" y="893" width="7" height="13" rx="1" fill="#9ea2a6"/><rect x="707.5" y="893" width="2.5" height="13" fill="#d8dcdf"/><path d="M714.5 906.5q0-11 8.65-11.5 8.65.5 8.65 11.5q-8.65 2-17.3 0z" fill="#a06040"/><path d="M716 899h14M715.5 902h15M715.5 905h15" stroke="#d08850" stroke-width=".9"/><ellipse cx="723.15" cy="903" rx="3" ry="1.5" fill="#e07840"/><path d="M710 930v-3q13.15-7 26.3 0v3z" fill="#8a5a3e"/><rect x="708" y="927.5" width="30.3" height="3.5" fill="#6a5044"/><path d="M717 928v3M729 928v3" stroke="#e8e8e8" stroke-width="2"/><path d="M770 898l4-2 11 6-1 5-3 1z" fill="#161616"/><path d="M750 911l10-5 7 3-9 6z" fill="#1a1a1a"/><path d="M757 906l12-7 14 8v17l-11 7-15-8z" fill="#eeeeee"/><path d="M757 904l8-4 16 8-8 5z" fill="#e4e030"/><path d="M773 913l8-5v18l-8 5z" fill="#d8d428"/><path d="M758 915q6 1 8 8" stroke="#888" stroke-width="1" fill="none"/><path d="M749 918l10 5v8l-10-5z" fill="#1c1c1c"/><path d="M751 922h7M751 926h7" stroke="#444" stroke-width="1"/><path d="M782 910l4 6-3 4z" fill="#1a1a1a"/><path d="M754 929v4M760 931v3M766 929v4" stroke="#ccc" stroke-width="1.2"/><rect x="940.7" y="736" width="42.59999999999991" height="42" rx="1.2" fill="url(#gBlue)"/><rect x="940.7" y="736" width="42.59999999999991" height="1.6" fill="#1668b0" opacity=".7"/><rect x="940.7" y="776.6" width="42.59999999999991" height="1.4" fill="#1668b0" opacity=".6"/><path d="M956 742h10M968 742h10" stroke="#1060a8" stroke-width="1" opacity=".6"/><path d="M955 809c-1 4 1 6 0 10v11M967 809c1 4-1 5 0 7v7" stroke="#6a6a6a" stroke-width="1.6" fill="none"/><path d="M952 807c-2-11 3-21 11-21.5s9.5 9 8.5 17c-.5 4-2 7-5 8h-11c-2.5 0-3.5-1.5-3.5-3.5z" fill="#2766c8"/><ellipse cx="962" cy="793" rx="5.5" ry="5" fill="#4a8ae0" opacity=".6"/><path d="M952 806q9 4 19-1" stroke="#1a4ea0" stroke-width="1.2" fill="none"/><rect x="947.4" y="866.5" width="28.2" height="9.8" fill="#2a66b4"/><circle cx="961.5" cy="857" r="17" fill="#8e5434"/><circle cx="961.5" cy="857" r="14.5" fill="none" stroke="#d0935e" stroke-width="5" stroke-dasharray="1.3 1"/><circle cx="961.5" cy="855" r="6.5" fill="#6a3a20"/><path d="M957 849q-3 10 -5 24M966 849q3 10 5 24M958.5 848v20M964.5 848v20" stroke="#e8b080" stroke-width="1.6" fill="none"/><path d="M960 850h3v6h-3z" fill="#f0f0f0"/><path d="M952 876V879.5" stroke="#888" stroke-width="1"/><path d="M971 876V879.5" stroke="#888" stroke-width="1"/><ellipse cx="962" cy="909.4" rx="19.5" ry="20.2" fill="url(#gTor)"/><ellipse cx="962" cy="910.1999999999999" rx="19.2" ry="19.8" fill="none" stroke="#0f64b0" stroke-width="1.2" opacity=".6"/><ellipse cx="962" cy="910.1999999999999" rx="12.1" ry="11.0" fill="#1470bc"/><ellipse cx="962" cy="909.4" rx="10.9" ry="9.8" fill="#fff"/><rect x="931.8" y="955.2" width="9.800000000000068" height="2.8" rx="1" fill="#c4582c"/><rect x="980.4" y="955.2" width="8.800000000000068" height="2.8" rx="1" fill="#c4582c"/><rect x="931.8" y="971.6" width="9.800000000000068" height="2.8" rx="1" fill="#c4582c"/><rect x="980.4" y="971.6" width="8.800000000000068" height="2.8" rx="1" fill="#c4582c"/><path d="M943.6 942.5h34.799999999999955l3 6v29.399999999999977q0 1.5-1.5 1.5h-37.799999999999955q-1.5 0-1.5-1.5v-29.399999999999977z" fill="url(#gEmc)"/><path d="M943.6 942.5h34.799999999999955l3 6h-40.799999999999955z" fill="#b6c4c6"/><circle cx="946.6" cy="945.0" r="1.2" fill="#fff"/><circle cx="975.4" cy="945.0" r="1.2" fill="#fff"/><rect x="952.84" y="953.5699999999999" width="16.319999999999983" height="11.069999999999993" fill="#f2f4f4"/><rect x="952.84" y="966.116" width="16.319999999999983" height="11.069999999999993" fill="#f2f4f4"/></svg></body></html>
